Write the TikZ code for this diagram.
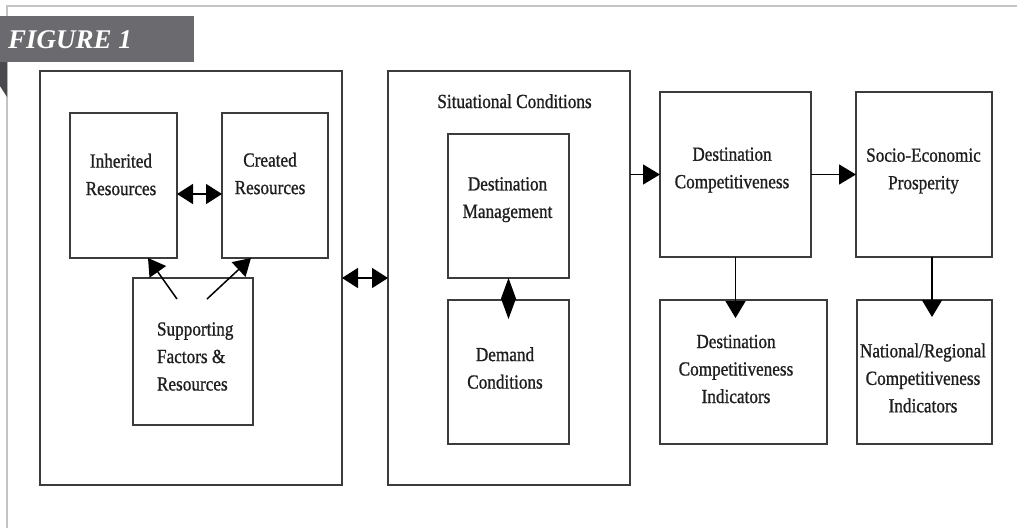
\documentclass[tikz,border=0pt]{standalone}
\usepackage{fontspec}
\setmainfont{Liberation Serif}
\newfontfamily\boxfont[FakeStretch=0.86,FakeBold=0.9]{Liberation Serif}
\usetikzlibrary{arrows.meta}
\definecolor{framegray}{HTML}{C4C4C4}
\definecolor{bannergray}{HTML}{6A6A6F}
\definecolor{folddark}{HTML}{4A4A4E}
\definecolor{boxline}{HTML}{3C3C3C}
\definecolor{txt}{HTML}{1E1E1E}
\tikzset{
  box/.style={draw=boxline, line width=1.5pt, inner sep=0pt, outer sep=0pt, fill=white},
  lbl/.style={inner sep=0pt, outer sep=0pt, text=txt, font=\boxfont\fontsize{20}{27.5}\selectfont, align=center},
  arr/.style={line width=1.5pt, -{Triangle[length=17pt,width=20pt]}},
  darr/.style={line width=1.5pt, {Triangle[length=16pt,width=20pt]}-{Triangle[length=16pt,width=20pt]}},
}
\begin{document}
\begin{tikzpicture}[x=1pt,y=-1pt]
\useasboundingbox (0,0) rectangle (1017,528);
% page frame
\draw[framegray, line width=2.2pt] (1017,6) -- (7,6) -- (7,528);
% banner
\fill[folddark] (0,62) -- (7,62) -- (7,97) -- (0,86) -- cycle;
\fill[bannergray] (0,16) rectangle (194,62);
\node[anchor=base west, inner sep=0pt, text=white, font=\fontsize{27}{30}\selectfont\bfseries\itshape] (fig) at (8,48) {FIGURE 1};

% boxes
\node[box, minimum width=302pt, minimum height=414pt] (outer) at (191,278) {};
\node[box, minimum width=107pt, minimum height=145pt] (inh) at (123.5,185.5) {};
\node[box, minimum width=106pt, minimum height=145pt] (cre) at (275,185.5) {};
\node[box, minimum width=120pt, minimum height=147pt] (sup) at (193,351.5) {};
\node[box, minimum width=242pt, minimum height=414pt] (mid) at (509,278) {};
\node[box, minimum width=121pt, minimum height=144pt] (dm) at (508.5,206) {};
\node[box, minimum width=121pt, minimum height=144pt] (dd) at (508.5,372) {};
\node[box, minimum width=151pt, minimum height=165pt] (dc) at (735.5,174.5) {};
\node[box, minimum width=136pt, minimum height=165pt] (se) at (924,174.5) {};
\node[box, minimum width=167pt, minimum height=144pt] (dci) at (743.5,372) {};
\node[box, minimum width=135pt, minimum height=144pt] (nr) at (924.5,372) {};

% texts
\node[lbl] (t-inh) at (121,174.5) {Inherited\\Resources};
\node[lbl] (t-cre) at (270,173.5) {Created\\Resources};
\node[lbl, anchor=west, align=left] (t-sup) at (157,356.5) {Supporting\\Factors \&\\Resources};
\node[lbl, anchor=base] (t-sit) at (514.5,108) {Situational Conditions};
\node[lbl] (t-dm) at (507.5,199.7) {Destination\\Management};
\node[lbl] (t-dd) at (505,368) {Demand\\Conditions};
\node[lbl] (t-dc) at (732,170) {Destination\\Competitiveness};
\node[lbl] (t-se) at (923.5,171) {Socio-Economic\\Prosperity};
\node[lbl] (t-dci) at (736,369) {Destination\\Competitiveness\\Indicators};
\node[lbl] (t-nr) at (923,378) {National/Regional\\Competitiveness\\Indicators};

% connectors
\draw[darr] ([yshift=-8.5pt]inh.east) -- ([yshift=-8.5pt]cre.west);
\draw[arr] ([xshift=-16pt,yshift=-21pt]sup.north) -- ([xshift=24.5pt]inh.south);
\draw[arr] ([xshift=14pt,yshift=-21pt]sup.north) -- ([xshift=-24pt]cre.south);
\draw[darr] (outer.east) -- (mid.west);
\fill[black] (dm.south) -- ++(7.5,20.5) -- ++(-7.5,20.5) -- ++(-7.5,-20.5) -- cycle;
\draw[arr] (mid.east |- dc.west) -- (dc.west);
\draw[arr] (dc.east) -- (se.west);
\draw[arr, shorten >=-18pt] (dc.south) -- (dc.south |- dci.north);
\draw[arr, shorten >=-17pt] ([xshift=8pt]se.south) -- ([xshift=8pt]se.south |- nr.north);
\end{tikzpicture}
\end{document}
